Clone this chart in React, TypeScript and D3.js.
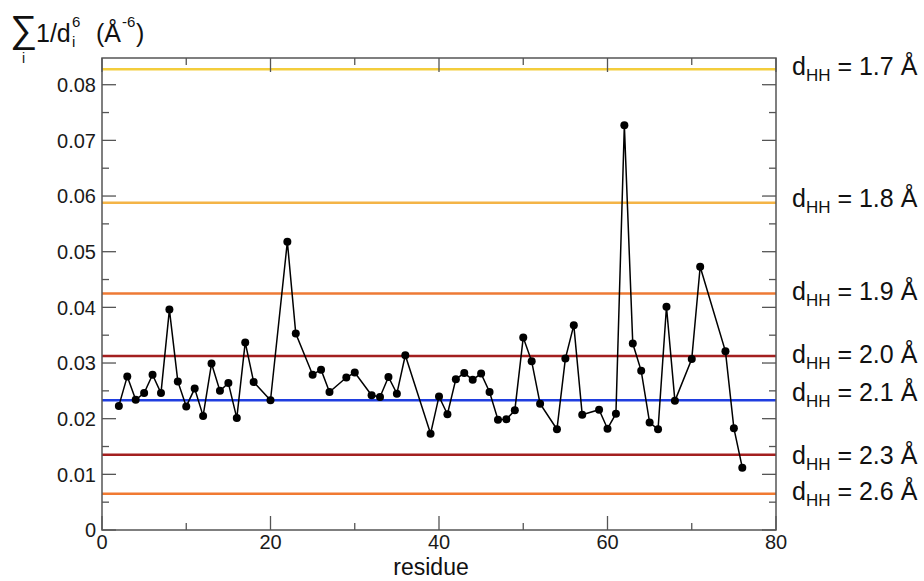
import React, { useEffect, useRef } from "react";
import * as d3 from "d3";

// residue numbers and the summed 1/d^6 value
const residues = [
  2, 3, 4, 5, 6, 7, 8, 9, 10, 11, 12, 13, 14, 15, 16, 17, 18, 20, 22, 23, 25, 26, 27, 29, 30,
  32, 33, 34, 35, 36, 39, 40, 41, 42, 43, 44, 45, 46, 47, 48, 49, 50, 51, 52, 54, 55, 56, 57,
  59, 60, 61, 62, 63, 64, 65, 66, 67, 68, 70, 71, 74, 75, 76,
];
const sums = [
  0.0223, 0.0276, 0.0234, 0.0246, 0.0279, 0.0246, 0.0396, 0.0267, 0.0222, 0.0254, 0.0205,
  0.0299, 0.025, 0.0264, 0.0201, 0.0337, 0.0266, 0.0233, 0.0518, 0.0353, 0.0279, 0.0288,
  0.0248, 0.0274, 0.0283, 0.0242, 0.0239, 0.0275, 0.0245, 0.0314, 0.0173, 0.024, 0.0208,
  0.0271, 0.0282, 0.027, 0.0281, 0.0248, 0.0198, 0.0199, 0.0215, 0.0346, 0.0303, 0.0227,
  0.0181, 0.0308, 0.0368, 0.0207, 0.0216, 0.0182, 0.0209, 0.0727, 0.0335, 0.0286, 0.0193,
  0.0181, 0.0401, 0.0232, 0.0307, 0.0473, 0.0321, 0.0183, 0.0112,
];

// reference distances and their threshold levels
const distances = ["1.7", "1.8", "1.9", "2.0", "2.1", "2.3", "2.6"];
const thresholds = [0.0828, 0.0588, 0.0425, 0.03125, 0.0233, 0.0135, 0.0065];
const lineColors = ["#f3cd3c", "#f4b446", "#ee7a35", "#a31f1f", "#1f3ee0", "#a31f1f", "#f17a32"];

const yTicks = [0, 0.01, 0.02, 0.03, 0.04, 0.05, 0.06, 0.07, 0.08];
const xTicks = [0, 20, 40, 60, 80];

// small vertical nudges for the right-hand labels (baseline vs line)
const labelNudge = [6, 4, 7, 7, 1, 9, 6];

const W = 924;
const H = 581;
const left = 102;
const right = 776;
const top = 58;
const bottom = 530;

export default function App() {
  const ref = useRef<SVGSVGElement>(null);

  useEffect(() => {
    const svg = d3.select(ref.current);
    svg.selectAll("*").remove();

    const x = d3.scaleLinear().domain([0, 80]).range([left, right]);
    const y = d3.scaleLinear().domain([0, 0.0848]).range([bottom, top]);
    const font = "Liberation Sans, Arial, Helvetica, sans-serif";
    const axisColor = "#555";

    // threshold lines
    svg.append("g")
      .selectAll("line")
      .data(thresholds)
      .enter()
      .append("line")
      .attr("x1", left)
      .attr("x2", right)
      .attr("y1", (d) => y(d))
      .attr("y2", (d) => y(d))
      .attr("stroke", (_, i) => lineColors[i])
      .attr("stroke-width", 2.5);

    // frame
    svg.append("rect")
      .attr("x", left)
      .attr("y", top)
      .attr("width", right - left)
      .attr("height", bottom - top)
      .attr("fill", "none")
      .attr("stroke", axisColor)
      .attr("stroke-width", 1.5);

    // ticks on all four sides, pointing inward
    const g = svg.append("g").attr("stroke", axisColor).attr("stroke-width", 1.3);
    d3.range(0, 81, 10).forEach((t) => {
      const len = t % 20 === 0 ? 14 : 7;
      g.append("line").attr("x1", x(t)).attr("x2", x(t)).attr("y1", bottom).attr("y2", bottom - len);
      g.append("line").attr("x1", x(t)).attr("x2", x(t)).attr("y1", top).attr("y2", top + len);
    });
    d3.range(0, 17).forEach((i) => {
      const t = i * 0.005;
      const len = i % 2 === 0 ? 14 : 7;
      g.append("line").attr("x1", left).attr("x2", left + len).attr("y1", y(t)).attr("y2", y(t));
      g.append("line").attr("x1", right).attr("x2", right - len).attr("y1", y(t)).attr("y2", y(t));
    });

    // tick labels
    svg.append("g")
      .selectAll("text")
      .data(yTicks)
      .enter()
      .append("text")
      .attr("x", left - 6)
      .attr("y", (d) => y(d))
      .attr("dy", "0.36em")
      .attr("text-anchor", "end")
      .attr("font-family", font)
      .attr("font-size", 20)
      .attr("fill", "#1a1a1a")
      .text((d) => (d === 0 ? "0" : d3.format(".2f")(d)));

    svg.append("g")
      .selectAll("text")
      .data(xTicks)
      .enter()
      .append("text")
      .attr("x", (d) => x(d))
      .attr("y", bottom + 19)
      .attr("text-anchor", "middle")
      .attr("font-family", font)
      .attr("font-size", 20)
      .attr("fill", "#1a1a1a")
      .text((d) => d);

    svg.append("text")
      .attr("x", 431)
      .attr("y", 575)
      .attr("text-anchor", "middle")
      .attr("font-family", font)
      .attr("font-size", 23)
      .attr("fill", "#111")
      .text("residue");

    // data line and markers
    const pts = residues.map((r, i) => [r, sums[i]] as [number, number]);
    const line = d3
      .line<[number, number]>()
      .x((d) => x(d[0]))
      .y((d) => y(d[1]));
    svg.append("path")
      .datum(pts)
      .attr("d", line)
      .attr("fill", "none")
      .attr("stroke", "#000")
      .attr("stroke-width", 1.5);
    svg.append("g")
      .selectAll("circle")
      .data(pts)
      .enter()
      .append("circle")
      .attr("cx", (d) => x(d[0]))
      .attr("cy", (d) => y(d[1]))
      .attr("r", 4)
      .attr("fill", "#000");

    // right-hand labels
    const lab = svg.append("g")
      .selectAll("text")
      .data(distances)
      .enter()
      .append("text")
      .attr("x", 792)
      .attr("y", (_, i) => y(thresholds[i]) + labelNudge[i])
      .attr("font-family", font)
      .attr("font-size", 25)
      .attr("fill", "#111");
    lab.append("tspan").text("d");
    lab.append("tspan").attr("dy", 6).attr("font-size", 17).text("HH");
    lab.append("tspan").attr("dy", -6).text((d) => ` = ${d} Å`);

    // y-axis title
    const t = svg.append("g").attr("font-family", font).attr("fill", "#111");
    t.append("text").attr("x", 10).attr("y", 42).attr("font-size", 38).text("∑");
    t.append("text").attr("x", 22).attr("y", 63).attr("font-size", 14).text("i");
    t.append("text").attr("x", 36).attr("y", 42).attr("font-size", 25).text("1/d");
    t.append("text").attr("x", 72).attr("y", 27).attr("font-size", 15).text("6");
    t.append("text").attr("x", 72).attr("y", 47).attr("font-size", 15).text("i");
    t.append("text").attr("x", 96).attr("y", 42).attr("font-size", 25).text("(Å");
    t.append("text").attr("x", 122).attr("y", 27).attr("font-size", 15).text("-6");
    t.append("text").attr("x", 136).attr("y", 42).attr("font-size", 25).text(")");
  }, []);

  return (
    <svg
      ref={ref}
      width={W}
      height={H}
      style={{ position: "absolute", left: 0, top: 0, background: "#fff" }}
    />
  );
}
